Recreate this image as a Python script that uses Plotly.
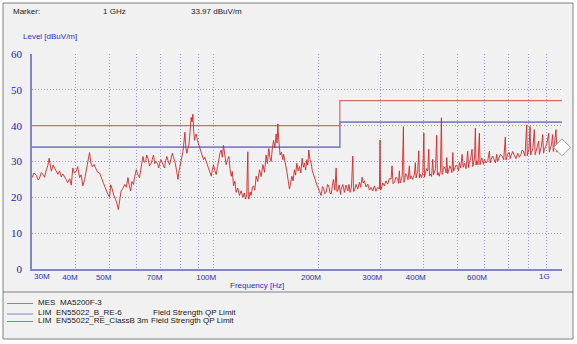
import math
import plotly.graph_objects as go

# ---- Measurement: MES MA5200F-3 (frequency in MHz, level in dBuV/m) ----
mes_freq_mhz = [
    # 30 - 110 MHz
    30.0, 30.4, 30.9, 31.2, 31.5, 31.9, 32.3, 32.6, 33.0, 33.3, 33.6, 33.9, 34.1, 34.5,
    34.8, 35.2, 35.6, 36.0, 36.4, 36.8, 37.2, 37.6, 38.0, 38.5, 38.9, 39.3, 39.7, 40.2,
    40.6, 41.1, 41.5, 42.0, 42.5, 43.0, 43.5, 43.9, 44.3, 44.7, 45.2, 45.7, 46.3, 46.9,
    47.3, 47.7, 48.2, 48.8, 49.5, 50.1, 50.5, 51.0, 51.5, 52.1, 52.6, 53.1, 53.6, 54.1,
    54.7, 55.4, 56.0, 56.6, 57.1, 57.6, 58.1, 58.7, 59.2, 59.8, 60.4, 61.1, 61.8, 62.5,
    63.0, 63.6, 64.1, 64.6, 65.3, 66.0, 66.5, 67.0, 67.6, 68.2, 68.8, 69.4, 69.9, 70.5,
    71.3, 72.1, 72.6, 73.2, 73.8, 74.5, 75.2, 75.9, 76.5, 77.2, 78.0, 78.8, 79.4, 80.0,
    80.7, 81.4, 82.0, 82.5, 83.0, 83.6, 84.1, 84.7, 85.3, 86.0, 86.5, 87.0, 87.4, 87.9,
    88.4, 88.9, 89.7, 90.5, 91.2, 91.9, 92.6, 93.3, 94.1, 95.0, 95.8, 96.7, 97.4, 98.2,
    98.9, 99.7, 100.6, 101.5, 102.4, 103.3, 104.1, 104.9, 105.7, 106.5, 107.4, 108.4,
    109.4,
    # 110 - 200 MHz
    110.4, 111.2, 112.1, 112.9, 113.8, 114.8, 115.8, 117.0, 118.4, 119.7, 121.1, 122.1,
    123.2, 124.2, 125.1, 125.5, 126.0, 127.0, 127.9, 128.9, 129.9, 131.0, 132.2, 133.6,
    135.1, 136.6, 138.2, 139.7, 141.2, 142.4, 143.7, 144.8, 146.0, 147.1, 148.3, 149.6,
    150.9, 151.8, 152.6, 153.3, 154.1, 154.9, 156.3, 157.7, 158.5, 159.4, 160.6, 161.9,
    163.3, 164.8, 166.1, 167.4, 168.8, 170.3, 171.6, 173.0, 174.5, 176.1, 177.6, 179.2,
    180.6, 182.0, 183.4, 184.8, 186.0, 187.3, 188.7, 190.2, 191.6, 193.1, 194.8, 196.6,
    198.3,
    # 200 - 1000 MHz
    200.0, 202.0, 203.2, 205.0, 206.4, 208.0, 210.0, 212.0, 213.8, 215.5, 217.1, 219.0,
    220.5, 222.5, 224.4, 225.6, 226.9, 229.0, 231.0, 232.0, 234.5, 237.1, 239.5, 242.4,
    244.2, 246.1, 248.3, 250.5, 251.8, 253.3, 256.0, 258.9, 261.8, 264.0, 266.5, 268.5,
    270.6, 273.5, 276.7, 279.8, 282.8, 286.0, 289.1, 292.0, 295.5, 298.8, 300.0, 301.0,
    302.1, 305.5, 308.8, 312.0, 315.6, 319.0, 322.7, 324.8, 327.0, 330.0, 333.5, 337.3,
    339.0, 341.0, 342.8, 344.8, 347.5, 350.2, 351.5, 353.3, 355.5, 358.0, 361.0, 364.3,
    366.3, 368.3, 372.3, 376.5, 379.0, 380.8, 382.5, 385.0, 387.6, 389.3, 391.1, 394.5,
    398.2, 400.9, 402.5, 404.3, 408.0, 411.5, 414.1, 416.3, 418.6, 422.0, 425.1, 427.5,
    429.8, 433.0, 436.5, 438.4, 440.4, 444.0, 447.3, 450.3, 452.3, 454.3, 458.0, 462.3,
    464.4, 466.5, 469.5, 472.7, 476.3, 480.1, 482.8, 485.5, 488.2, 490.9, 496.0, 501.6,
    504.3, 507.1, 511.6, 516.2, 520.2, 524.3, 530.0, 535.9, 538.8, 541.7, 546.5, 551.4,
    554.5, 557.5, 560.6, 563.7, 566.2, 568.7, 573.8, 578.9, 581.5, 584.0, 587.8, 591.7,
    595.0, 598.3, 605.0, 611.6, 615.0, 618.5, 622.0, 625.3, 632.0, 639.0, 644.0, 649.0,
    653.4, 657.8, 665.0, 672.5, 680.0, 687.4, 690.4, 693.5, 699.7, 705.9, 709.8, 713.6,
    721.6, 729.7, 737.7, 745.8, 754.1, 762.5, 768.4, 774.4, 783.0, 791.6, 795.1, 798.7,
    804.0, 809.4, 813.0, 816.5, 824.6, 832.8, 837.4, 842.1, 849.6, 857.2, 861.0, 864.8,
    872.5, 880.3, 885.1, 889.9, 902.8, 915.7, 919.7, 923.7, 932.0, 940.2, 944.3, 948.5,
    961.3, 966.6, 971.9, 977.2, 982.6, 991.0, 1000.0,
]
mes_level = [
    # 30 - 110 MHz
    25.5, 26.8, 26.1, 24.9, 25.2, 26.9, 26.4, 25.6, 27.7, 28.8, 30.9, 28.6, 27.3, 29.0,
    28.2, 27.0, 26.4, 27.4, 25.7, 26.5, 25.5, 25.0, 24.1, 25.2, 23.4, 28.2, 26.8, 27.3,
    28.6, 25.5, 26.3, 23.2, 25.0, 27.7, 30.5, 32.5, 29.6, 28.5, 29.2, 28.2, 27.0, 26.8,
    25.6, 25.0, 23.8, 22.3, 21.0, 20.0, 23.5, 22.3, 20.6, 19.5, 18.4, 16.6, 19.8, 21.8,
    22.4, 23.6, 22.8, 25.5, 23.3, 21.8, 24.4, 23.6, 25.8, 27.7, 26.4, 25.5, 28.5, 31.4,
    29.8, 30.0, 31.8, 30.9, 28.8, 29.5, 30.6, 31.8, 29.4, 30.0, 29.4, 28.2, 29.8, 30.5,
    29.2, 28.2, 30.2, 31.4, 30.2, 29.1, 30.6, 32.3, 31.2, 30.0, 27.8, 25.0, 27.4, 29.1,
    31.0, 32.7, 35.5, 38.2, 34.0, 32.3, 33.6, 34.5, 38.0, 42.3, 41.0, 43.2, 38.8, 35.9,
    37.0, 37.7, 35.8, 34.5, 33.6, 32.3, 31.4, 30.5, 31.2, 30.0, 28.6, 27.7, 27.0, 25.9,
    27.6, 29.1, 27.4, 26.4, 28.6, 30.9, 32.4, 33.2, 31.2, 34.5, 31.0, 29.1,
    30.6,
    # 110 - 200 MHz
    31.4, 28.0, 25.9, 27.2, 23.2, 24.5, 21.4, 22.6, 20.5, 21.8, 20.0, 21.2,
    19.5, 20.6, 32.7, 20.2, 19.5, 21.5, 20.5, 22.8, 23.2, 22.0, 25.9, 24.4,
    27.7, 25.8, 29.1, 27.0, 31.8, 29.4, 33.6, 31.2, 30.0, 33.5, 35.9, 33.8,
    37.7, 35.2, 40.5, 36.8, 34.2, 31.8, 32.6, 30.5, 32.0, 30.9, 29.0, 27.3,
    24.8, 22.3, 24.0, 25.9, 24.6, 27.7, 26.2, 29.5, 27.4, 28.6, 26.8, 30.9,
    28.4, 29.5, 27.6, 30.5, 29.0, 33.2, 30.6, 29.5, 27.5, 26.4, 25.0, 24.1,
    23.0,
    # 200 - 1000 MHz
    22.3, 20.9, 20.5, 23.0, 22.7, 21.0, 21.4, 23.6, 23.2, 21.2, 20.9, 23.4,
    25.0, 22.0, 28.2, 21.6, 21.8, 23.5, 20.8, 22.3, 23.6, 21.4, 23.4, 21.8,
    23.6, 21.4, 22.8, 31.5, 21.6, 21.8, 23.6, 22.3, 24.2, 22.8, 25.6, 24.0,
    24.6, 22.9, 23.7, 22.0, 22.8, 21.8, 23.2, 21.7, 22.8, 22.3, 36.0, 22.0,
    22.3, 24.0, 23.2, 24.6, 23.7, 25.2, 25.1, 28.8, 23.8, 24.2, 25.6, 25.1,
    23.9, 27.4, 24.0, 24.6, 26.0, 39.7, 24.2, 25.1, 26.6, 26.0, 24.9, 28.8,
    25.2, 26.0, 25.0, 26.5, 29.7, 25.4, 26.0, 27.3, 33.0, 25.4, 26.5, 25.5,
    26.9, 37.9, 25.6, 26.5, 28.0, 27.4, 33.4, 26.0, 26.5, 25.8, 30.6, 26.3,
    26.9, 28.0, 37.3, 26.2, 26.9, 25.9, 27.4, 42.2, 26.4, 26.9, 28.6, 27.9,
    26.8, 31.1, 26.6, 27.4, 28.8, 27.9, 26.9, 32.5, 27.3, 27.9, 29.0, 28.3,
    27.4, 29.7, 28.2, 32.0, 28.4, 29.5, 28.0, 32.9, 28.3, 29.7, 30.8, 33.4,
    28.6, 29.7, 30.9, 39.3, 29.0, 30.2, 29.1, 37.9, 29.1, 29.9, 31.0, 30.2,
    29.2, 30.6, 29.6, 30.2, 31.3, 32.9, 29.6, 30.6, 31.5, 30.6, 29.6, 32.0,
    30.0, 30.8, 32.0, 31.6, 30.5, 36.8, 30.4, 31.1, 32.3, 32.5, 30.8, 31.6,
    32.8, 31.7, 30.8, 32.3, 31.2, 32.0, 33.2, 32.9, 31.5, 40.2, 31.6, 32.5,
    33.5, 39.8, 31.8, 32.5, 33.6, 38.9, 31.9, 32.9, 34.0, 35.7, 32.0, 32.9,
    34.2, 37.5, 32.3, 33.4, 34.6, 37.9, 32.6, 33.4, 34.6, 37.5, 32.8, 33.8,
    38.9, 32.6, 33.4, 34.5, 33.8, 32.6, 33.97,
]

# ---- Limit lines ----
lim_b_re6_freq = [30, 230, 230, 1000]
lim_b_re6_level = [34, 34, 41, 41]
lim_classb3m_freq = [30, 230, 230, 1000]
lim_classb3m_level = [40, 40, 47, 47]

# ---- Marker ----
marker_freq_mhz = 1000
marker_level = 33.97

# ---- Axes ----
grid_freqs = [40, 50, 60, 70, 80, 90, 100, 200, 300, 400, 500, 600, 700, 800, 900, 1000]
grid_labels = ["40M", "50M", "", "70M", "", "", "100M", "200M", "300M", "400M", "",
               "600M", "", "", "", ""]
level_ticks = [0, 10, 20, 30, 40, 50, 60]

W, H = 577, 344
PL, PR, PT, PB = 32, 562, 54, 269   # plot box in pixels


def px(x):
    return (x - PL) / (PR - PL)


def py(y):
    return (PB - y) / (PB - PT)


BLUE_TXT = "#2c2cc4"
GRID = "#9898cc"
AXIS = "#8383cc"
RED_LIM = "#cf6b6b"
BLUE_LIM = "#8282c8"
MES_RED = "#d62626"

fig = go.Figure()

fig.add_trace(go.Scatter(x=lim_classb3m_freq, y=lim_classb3m_level, mode="lines",
                         line=dict(color=RED_LIM, width=1.2), hoverinfo="skip"))
fig.add_trace(go.Scatter(x=lim_b_re6_freq, y=lim_b_re6_level, mode="lines",
                         line=dict(color=BLUE_LIM, width=1.6), hoverinfo="skip"))
fig.add_trace(go.Scatter(x=mes_freq_mhz, y=mes_level, mode="lines",
                         line=dict(color=MES_RED, width=0.9)))
fig.add_trace(go.Scatter(x=[marker_freq_mhz], y=[marker_level], mode="markers",
                         cliponaxis=False,
                         marker=dict(symbol="diamond", size=13, color="white",
                                     line=dict(color="#9a9a9a", width=1))))

# outer frame and legend separator
fig.add_shape(type="rect", xref="paper", yref="paper",
              x0=px(3), x1=px(573), y0=py(339), y1=py(3),
              fillcolor="#f1f1f1", line=dict(color="#808080", width=1), layer="below")
fig.add_shape(type="line", xref="paper", yref="paper",
              x0=px(3), x1=px(573), y0=py(292), y1=py(292),
              line=dict(color="#808080", width=1))

# legend rows: sample line, kind, name, description
legend_rows = [
    (302, RED_LIM, "MES", "MA5200F-3", ""),
    (312.5, BLUE_LIM, "LIM", "EN55022_B_RE-6", "Field Strength QP Limit"),
    (320, RED_LIM, "LIM", "EN55022_RE_ClassB 3m", "Field Strength QP Limit"),
]
annotations = []
txt_font = dict(family="Liberation Sans", size=8, color="#1a1a1a")
for i, (ry, col, kind, name, desc) in enumerate(legend_rows):
    fig.add_shape(type="line", xref="paper", yref="paper",
                  x0=px(7), x1=px(33), y0=py(ry + 1.5), y1=py(ry + 1.5),
                  line=dict(color=col, width=1))
    annotations.append(dict(x=px(36), y=py(ry), text=kind))
    annotations.append(dict(x=px(58 if i == 0 else 54), y=py(ry), text=name))
    if desc:
        annotations.append(dict(x=px(151 if i == 1 else 149), y=py(ry), text=desc))

annotations += [
    dict(x=px(11), y=py(11), text="Marker:"),
    dict(x=px(101), y=py(11), text=f"{marker_freq_mhz / 1000:g} GHz"),
    dict(x=px(189), y=py(11), text=f"{marker_level:.2f} dBuV/m"),
]
for a in annotations:
    a.update(xref="paper", yref="paper", xanchor="left", yanchor="middle",
             showarrow=False, font=txt_font)

annotations += [
    dict(x=px(21), y=py(36), text="Level [dBuV/m]", xref="paper", yref="paper",
         xanchor="left", yanchor="middle", showarrow=False,
         font=dict(family="Liberation Sans", size=8, color=BLUE_TXT)),
    dict(x=px(257), y=py(285), text="Frequency [Hz]", xref="paper", yref="paper",
         xanchor="center", yanchor="middle", showarrow=False,
         font=dict(family="Liberation Sans", size=8, color=BLUE_TXT)),
    # end labels of the frequency axis
    dict(x=math.log10(30), y=0, xref="x", yref="paper", text="30M",
         xanchor="left", yanchor="top", yshift=-1, showarrow=False,
         font=dict(family="Liberation Sans", size=8, color=BLUE_TXT)),
    dict(x=math.log10(1000), y=0, xref="x", yref="paper", text="1G",
         xanchor="right", yanchor="top", xshift=-10, yshift=-1, showarrow=False,
         font=dict(family="Liberation Sans", size=8, color=BLUE_TXT)),
]

fig.update_layout(
    width=W, height=H,
    margin=dict(l=PL, r=W - PR, t=PT, b=H - PB),
    paper_bgcolor="white", plot_bgcolor="rgba(0,0,0,0)",
    showlegend=False,
    annotations=annotations,
    xaxis=dict(type="log", range=[math.log10(30), math.log10(1000)],
               tickmode="array", tickvals=grid_freqs, ticktext=grid_labels,
               showgrid=True, gridcolor=GRID, griddash="1px,2px", gridwidth=1,
               showline=True, linecolor=AXIS, linewidth=1.5, ticks="",
               ticklabelposition="outside left", ticklabelshift=3,
               tickfont=dict(family="Liberation Sans", size=8, color=BLUE_TXT),
               zeroline=False, fixedrange=True),
    yaxis=dict(range=[0, 60], tickmode="array", tickvals=level_ticks,
               showgrid=True, gridcolor=GRID, griddash="1px,2px", gridwidth=1,
               showline=True, linecolor=AXIS, linewidth=1.5, ticks="",
               ticklabelstandoff=6,
               tickfont=dict(family="Liberation Serif", size=11, color="#2020b0"),
               zeroline=False, fixedrange=True),
)

fig.write_html("out.html")
